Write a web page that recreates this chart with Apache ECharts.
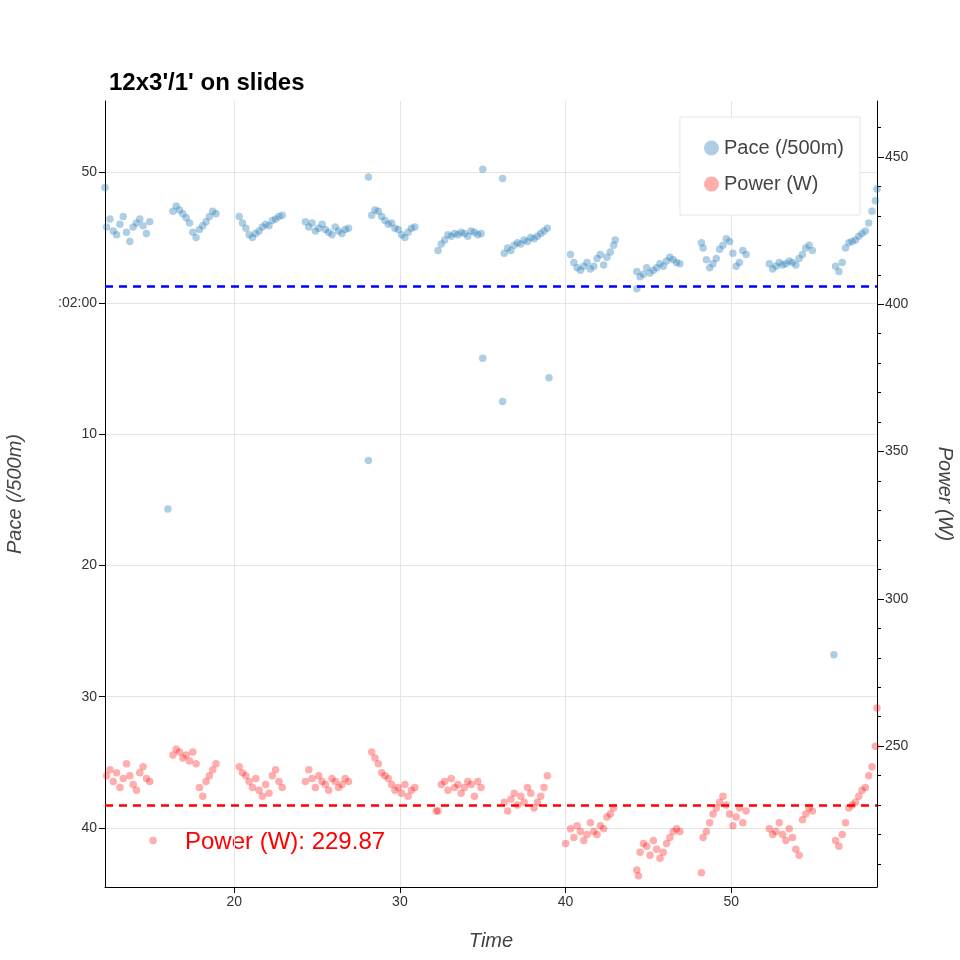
<!DOCTYPE html>
<html><head><meta charset="utf-8">
<script src="https://cdn.jsdelivr.net/npm/echarts@6/dist/echarts.min.js"></script>
<style>html,body{margin:0;padding:0;background:#fff}#c{width:960px;height:960px}</style>
</head><body><div id="c"></div>
<script>
const times = [
 [12.3,12.5,12.7,12.9,13.1,13.3,13.5,13.7,13.9,14.1,14.3,14.5,14.7,14.9],
 [16.3,16.5,16.7,16.9,17.1,17.3,17.5,17.7,17.9,18.1,18.3,18.5,18.7,18.9],
 [20.3,20.5,20.7,20.9,21.1,21.3,21.5,21.7,21.9,22.1,22.3,22.5,22.7,22.9],
 [24.3,24.5,24.7,24.9,25.1,25.3,25.5,25.7,25.9,26.1,26.3,26.5,26.7,26.9],
 [28.3,28.5,28.7,28.9,29.1,29.3,29.5,29.7,29.9,30.1,30.3,30.5,30.7,30.9],
 [32.3,32.5,32.7,32.9,33.1,33.3,33.5,33.7,33.9,34.1,34.3,34.5,34.7,34.9],
 [36.3,36.5,36.7,36.9,37.1,37.3,37.5,37.7,37.9,38.1,38.3,38.5,38.7,38.9],
 [40.3,40.5,40.7,40.9,41.1,41.3,41.5,41.7,41.9,42.1,42.3,42.5,42.7,42.9],
 [44.3,44.5,44.7,44.9,45.1,45.3,45.5,45.7,45.9,46.1,46.3,46.5,46.7,46.9],
 [48.3,48.5,48.7,48.9,49.1,49.3,49.5,49.7,49.9,50.1,50.3,50.5,50.7,50.9],
 [52.3,52.5,52.7,52.9,53.1,53.3,53.5,53.7,53.9,54.1,54.3,54.5,54.7,54.9],
 [56.3,56.5,56.7,56.9,57.1,57.3,57.5,57.7,57.9,58.1,58.3,58.5,58.7,58.8]
];
const paceSec = [
 [114.2,113.6,114.5,114.8,114.0,113.4,114.6,115.3,114.2,113.9,113.6,114.1,114.7,113.8],
 [113.0,112.6,112.9,113.2,113.5,113.9,114.6,115.0,114.4,114.1,113.8,113.4,113.0,113.2],
 [113.4,113.9,114.3,114.8,115.0,114.7,114.5,114.2,114.0,114.1,113.7,113.6,113.4,113.3],
 [113.8,114.2,113.9,114.5,114.3,114.0,114.4,114.6,114.8,114.2,114.5,114.7,114.4,114.3],
 [113.3,112.9,113.0,113.4,113.7,114.0,113.9,114.3,114.4,114.8,115.0,114.6,114.3,114.2],
 [116.0,115.5,115.2,114.8,114.9,114.7,114.8,114.6,114.7,114.9,114.5,114.6,114.8,114.7],
 [116.2,115.8,116.0,115.6,115.4,115.5,115.2,115.3,115.0,115.1,114.9,114.7,114.5,114.3],
 [116.3,116.9,117.3,117.5,117.2,116.9,117.4,117.2,116.6,116.3,117.1,116.5,116.1,115.6],
 [117.6,118.0,117.8,117.3,117.7,117.5,117.3,117.0,117.2,116.8,116.5,116.7,116.9,117.0],
 [115.8,116.7,117.3,117.0,116.6,115.9,115.6,115.1,115.3,116.2,117.2,116.9,116.0,116.3],
 [117.0,117.4,117.2,116.9,117.1,117.0,116.8,116.9,117.1,116.6,116.3,115.8,115.6,116.0],
 [117.2,117.6,116.9,115.8,115.4,115.3,115.2,114.9,114.7,114.5,113.9,113.0,112.2,111.3]
];
const powerW = [
 [240,242,238,241,236,239,244,240,237,235,241,243,239,238],
 [247,249,248,246,247,245,248,244,236,233,238,240,242,244],
 [243,241,240,238,236,239,235,233,237,234,240,242,238,236],
 [238,242,239,236,240,238,237,235,239,238,236,237,239,238],
 [248,246,244,241,240,239,237,235,236,234,237,233,235,236],
 [228,237,238,235,239,236,237,234,236,238,237,233,238,236],
 [231,228,232,234,230,233,231,236,234,229,231,233,236,240],
 [222,219,223,221,218,220,224,221,220,223,222,226,227,229],
 [208,214,217,216,213,218,215,212,214,217,219,221,222,221],
 [219,221,224,227,229,231,233,230,227,223,226,229,224,228],
 [222,220,221,224,220,218,222,219,215,213,225,227,229,228],
 [218,216,220,224,229,230,231,233,235,236,240,243,250,263]
];
const paceOutT = [12.2,16.0,28.1,28.1,35.0,35.0,36.2,36.2,39.0,56.2,43.0,44.3,48.2];
const paceOutS = [111.2,135.7,110.4,132.0,109.8,124.2,110.5,127.5,125.7,146.8,115.2,118.9,115.4];
const powerOutT = [15.1,40.0,44.4,48.2,32.2];
const powerOutW = [218,217,206,207,228];
const paceTicks = [110,120,130,140,150,160];
const powerTicks = [250,300,350,400,450];
const powerMinor = [210,220,230,240,250,260,270,280,290,300,310,320,330,340,350,360,370,380,390,400,410,420,430,440,450,460];
const xTicks = [20,30,40,50];
const paceRef = 118.7, powerRef = 229.87;

const paceData = [], powerData = [];
times.forEach((ts,i)=>ts.forEach((t,j)=>{paceData.push([t,paceSec[i][j]]);powerData.push([t,powerW[i][j]]);}));
paceOutT.forEach((t,i)=>paceData.push([t,paceOutS[i]]));
powerOutT.forEach((t,i)=>powerData.push([t,powerOutW[i]]));

const ch = echarts.init(document.getElementById('c'));
const font = 'Helvetica, "Liberation Sans", Arial, sans-serif';
ch.setOption({
 animation:false,
 title:{text:"12x3'/1' on slides",left:104,top:66,textStyle:{fontFamily:font,fontSize:24,fontWeight:'bold',color:'#000'}},
 legend:{right:100,top:117,orient:'vertical',itemGap:16,padding:[21,16,21,24],borderColor:'#e6e6e6',borderWidth:1,
   backgroundColor:'#fff',icon:'circle',itemWidth:15,itemHeight:15,textStyle:{fontFamily:font,fontSize:20,color:'#444'},
   data:['Pace (/500m)','Power (W)']},
 grid:{left:105,right:83,top:101,bottom:73,containLabel:false,outerBoundsMode:'none'},
 xAxis:{type:'value',min:12.2,max:58.8,name:'Time',nameLocation:'middle',nameGap:44,
   nameTextStyle:{fontFamily:font,fontSize:20,fontStyle:'italic',color:'#444'},
   axisLine:{lineStyle:{color:'#000'}},axisTick:{customValues:xTicks,length:6,lineStyle:{color:'#000'}},
   axisLabel:{customValues:xTicks,fontFamily:font,fontSize:14,color:'#333'},
   splitLine:{show:true,lineStyle:{color:'#e5e5e5'}}},
 yAxis:[
  {type:'value',min:104.6,max:164.5,inverse:true,position:'left',name:'Pace (/500m)',nameLocation:'middle',nameGap:80,nameRotate:90,
   nameTextStyle:{fontFamily:font,fontSize:20,fontStyle:'italic',color:'#444'},
   axisLine:{show:true,lineStyle:{color:'#000'}},axisTick:{show:true,customValues:paceTicks,length:6,lineStyle:{color:'#000'}},
   axisLabel:{customValues:paceTicks,fontFamily:font,fontSize:14,color:'#333',
     formatter:v=>v%60===0?':0'+(v/60)+':00':String(v%60)},
   splitLine:{show:true,lineStyle:{color:'#e5e5e5'}}},
  {type:'value',min:202.2,max:469,position:'right',name:'Power (W)',nameLocation:'middle',nameGap:58,nameRotate:-90,
   nameTextStyle:{fontFamily:font,fontSize:20,fontStyle:'italic',color:'#444'},
   axisLine:{show:true,lineStyle:{color:'#000'}},axisTick:{show:true,customValues:powerTicks,length:7,lineStyle:{color:'#000'}},
   axisLabel:{customValues:powerTicks,fontFamily:font,fontSize:14,color:'#333'},splitLine:{show:false}},
  {type:'value',min:202.2,max:469,position:'right',axisLine:{show:false},
   axisTick:{show:true,customValues:powerMinor,length:4,lineStyle:{color:'#000'}},axisLabel:{show:false},splitLine:{show:false}}
 ],
 series:[
  {name:'Pace (/500m)',type:'scatter',yAxisIndex:0,data:paceData,symbolSize:7.5,
   itemStyle:{color:'rgba(31,119,180,0.45)'},
   markLine:{silent:true,symbol:'none',label:{show:false},lineStyle:{color:'#0000ff',type:[8,6],width:2.5},data:[{yAxis:paceRef}]}},
  {name:'Power (W)',type:'scatter',yAxisIndex:1,data:powerData,symbolSize:7.5,
   itemStyle:{color:'rgba(255,0,0,0.4)'},
   markLine:{silent:true,symbol:'none',label:{show:false},lineStyle:{color:'#ff0000',type:[8,6],width:2.5},data:[{yAxis:powerRef}]}}
 ],
 graphic:[{type:'text',left:185,top:830,style:{text:'Power (W): '+powerRef,fill:'#ff0000',font:'24px '+font}}]
});
</script></body></html>
